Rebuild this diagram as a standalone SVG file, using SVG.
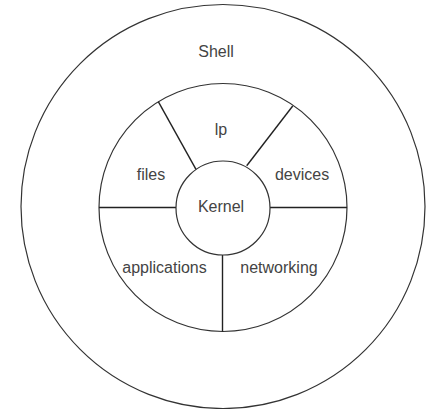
<svg xmlns="http://www.w3.org/2000/svg" width="432" height="409" viewBox="0 0 432 409">
<style>
.c{fill:none;stroke:#333;stroke-width:1.2}
.l{stroke:#222;stroke-width:1.4}
text{font-family:"Liberation Sans",Arial,sans-serif;font-size:16px;fill:#444;text-anchor:middle}
</style>
<rect width="432" height="409" fill="#fff"/>
<g id="shell"><circle class="c" cx="223" cy="206.5" r="202"/><text x="216" y="57">Shell</text></g>
<g id="ring"><circle class="c" cx="223" cy="207.5" r="124"/></g>
<g id="connectors">
<line class="l" x1="99" y1="207.5" x2="176" y2="207.5"/>
<line class="l" x1="270" y1="207.5" x2="347" y2="207.5"/>
<line class="l" x1="222.5" y1="255" x2="222.5" y2="331.5"/>
<line class="l" x1="158.3" y1="101.7" x2="196" y2="169.3"/>
<line class="l" x1="292.7" y1="106" x2="246.7" y2="165.7"/>
</g>
<g id="kernel"><circle class="c" cx="223" cy="208" r="47"/><text x="221" y="212">Kernel</text></g>
<g id="lp"><text x="221" y="135">lp</text></g>
<g id="files"><text x="151" y="180">files</text></g>
<g id="devices"><text x="302" y="180">devices</text></g>
<g id="applications"><text x="164.5" y="273">applications</text></g>
<g id="networking"><text x="279" y="273">networking</text></g>
</svg>
